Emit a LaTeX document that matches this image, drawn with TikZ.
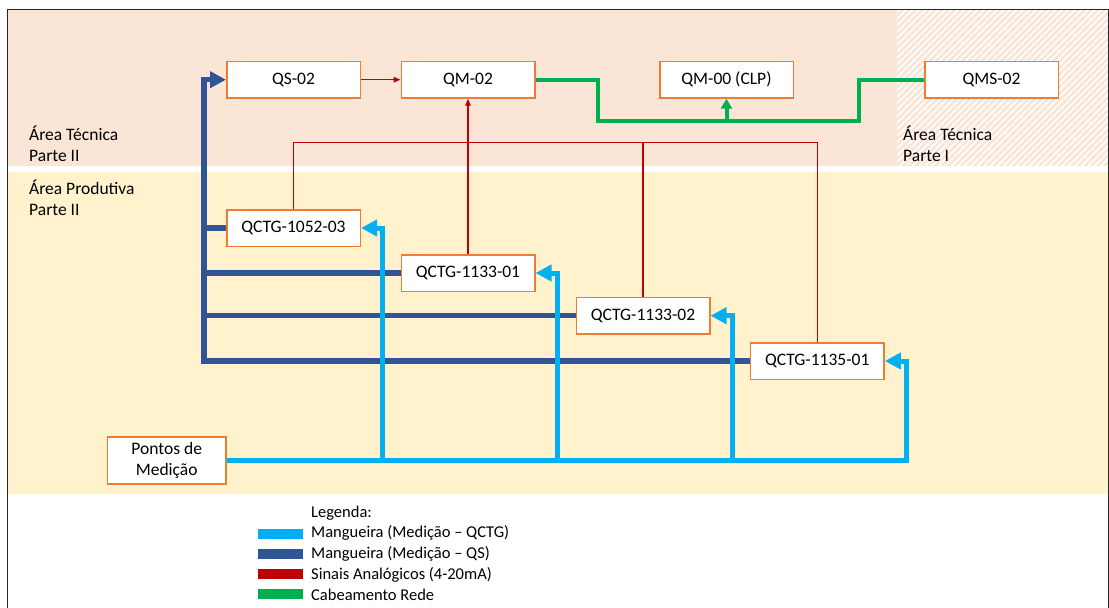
\documentclass[tikz,border=0pt]{standalone}
\usepackage{fontspec}
\setmainfont{Carlito}
\usetikzlibrary{arrows.meta}
\definecolor{tecnica}{HTML}{FBE5D6}
\definecolor{produtiva}{HTML}{FFF2CC}
\definecolor{borda}{HTML}{ED7D31}
\definecolor{azulqs}{HTML}{2F5597}
\definecolor{azulqctg}{HTML}{00B0F0}
\definecolor{sinal}{HTML}{C00000}
\definecolor{rede}{HTML}{00B050}
\begin{document}
\begin{tikzpicture}[x=1pt,y=-1pt,line join=miter,font=\fontsize{17.5}{21}\selectfont,
	quadro/.style={draw=borda,fill=white,line width=1.5pt,minimum width=133.5pt,minimum height=36.5pt,inner sep=0pt},
	texto/.style={inner sep=0pt,align=left},
	qs/.style={draw=azulqs,line width=5.5pt},
	qctg/.style={draw=azulqctg,line width=5pt},
	grossa/.style={-{Triangle[length=16pt,width=16pt]}},
	analog/.style={draw=sinal,line width=1.5pt,-{Triangle[length=7pt,width=5.5pt]}},
	cabo/.style={draw=rede,line width=4pt}]
	\useasboundingbox (0,0) rectangle (1109,608);
	% areas
	\fill[tecnica] (7.5,10) rectangle (1108,166);
	\fill[produtiva] (7.5,172) rectangle (1108,494);
	\begin{scope}
		\clip (897,10) rectangle (1108,166);
		\foreach \k in {0,6.5,...,380}
		\draw[white,line width=1.6pt] ({737+\k},166)--++(160,-160);
	\end{scope}
	\draw[line width=1pt,black!85] (7,608)--(7,9.5)--(1108,9.5)--(1108,608);
	\node[texto,anchor=west] (tec2) at (29,143.5) {Área Técnica\\Parte II};
	\node[texto,anchor=west] (prod2) at (29,198) {Área Produtiva\\Parte II};
	\node[texto,anchor=west] (tec1) at (903,143.5) {Área Técnica\\Parte I};
	% quadros
	\foreach \n/\x/\y/\t in {QS02/293.5/79.7/QS-02,QM02/468/79.7/QM-02,QM00/726.5/79.7/QM-00 (CLP),QMS02/991.5/79.7/QMS-02,
		Q1052/293.5/228/QCTG-1052-03,Q1133a/468/273/QCTG-1133-01,Q1133b/643/315.7/QCTG-1133-02,Q1135/817.3/361/QCTG-1135-01}
	\node[quadro] (\n) at (\x,\y) {\t};
	\node[quadro,minimum width=118.5pt,minimum height=47pt,align=center] (Pontos) at (166.7,460.3) {Pontos de\\Medição};
	% mangueiras QS
	\draw[qs,grossa] (Q1135.west) -| ([xshift=-22pt]QS02.west) -- (QS02.west);
	\foreach \b in {Q1052,Q1133a,Q1133b}
	\draw[qs] (\b.west) -- ([xshift=-22pt]QS02.west |- \b.west);
	% mangueiras QCTG
	\foreach \b in {Q1052,Q1133a,Q1133b}
	\draw[qctg,grossa] ([xshift=21.5pt]\b.east |- Pontos.east) -- ([xshift=21.5pt]\b.east) -- (\b.east);
	\draw[qctg,grossa] (Pontos.east) -| ([xshift=21.5pt]Q1135.east) -- (Q1135.east);
	% sinais
	\coordinate (bus) at (643,142.7);
	\draw[analog] (QS02) -- (QM02);
	\draw[analog] (Q1133a.north) -- (QM02.south);
	\draw[analog,-] (Q1052.north) |- (bus) -| (Q1135.north);
	\draw[analog,-] (Q1133b.north) -- (bus);
	% rede
	\coordinate (lan) at (726.5,120.7);
	\draw[cabo] (QM02.east) -| ([xshift=62pt]QM02.east |- lan) -| ([xshift=-65pt]QMS02.west) -- (QMS02.west);
	\draw[cabo,-{Triangle[length=10pt,width=11pt]}] (lan) -- (QM00.south);
	% legenda
	\begin{scope}[font=\fontsize{16.5}{20}\selectfont]
	\node[texto,anchor=base west] (leg0) at (311,517.5) {Legenda:};
	\foreach \c/\t[count=\i] in {azulqctg/Mangueira (Medição – QCTG),azulqs/Mangueira (Medição – QS),sinal/Sinais Analógicos (4-20mA),rede/Cabeamento Rede}
	{\fill[fill=\c] (257.7,{528.5+20.2*(\i-1)}) rectangle ++(45.6,10);
	\node[texto,anchor=base west] (leg\i) at (311,{537.5+21*(\i-1)}) {\t};}
	\end{scope}
\end{tikzpicture}
\end{document}
